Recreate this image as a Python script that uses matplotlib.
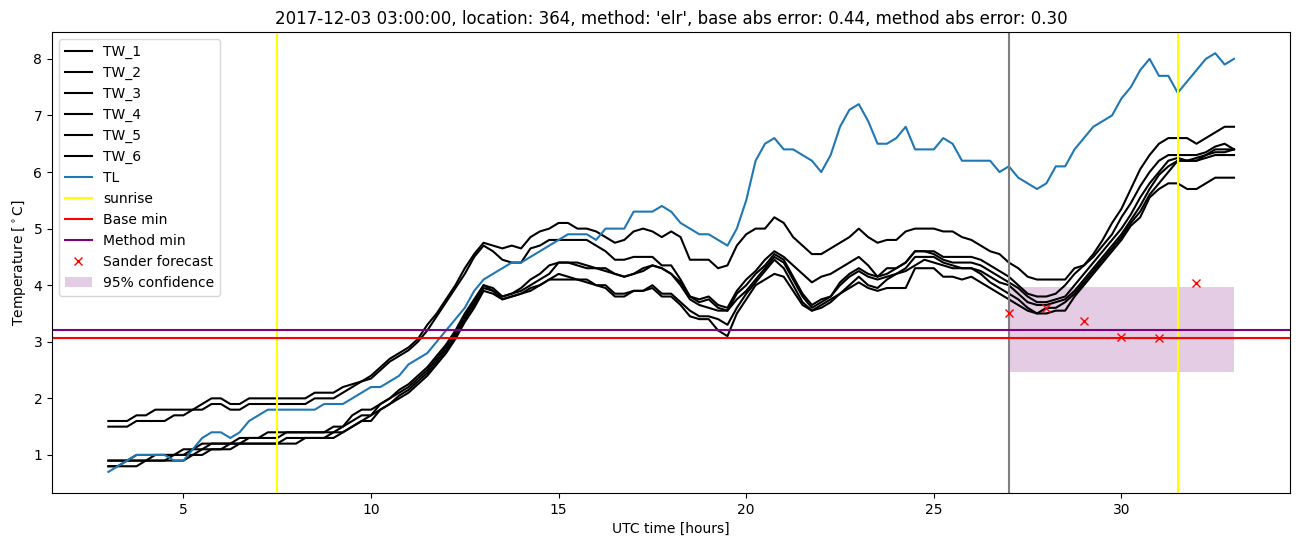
import numpy as np
import matplotlib
matplotlib.use("Agg")
import matplotlib.pyplot as plt

# ================== data ==================
# time axis in hours (UTC), 15 minute grid
hours = np.arange(3.0, 33.0 + 0.001, 0.25)

tw_1 = [1.6, 1.6, 1.6, 1.7, 1.7, 1.8, 1.8, 1.8, 1.8, 1.8, 1.9, 2.0, 2.0, 1.9, 1.9, 2.0, 2.0, 2.0, 2.0, 2.0,
        2.0, 2.0, 2.1, 2.1, 2.1, 2.2, 2.25, 2.3, 2.4,
        2.55, 2.7, 2.8, 2.9, 3.05, 3.3, 3.5, 3.75, 4.0, 4.3, 4.55, 4.75, 4.7, 4.65, 4.7, 4.65, 4.85, 4.95, 5.0, 5.1,
        5.1, 5.0, 5.0, 4.95, 4.85, 4.75, 4.8, 4.95, 5.0, 4.95, 4.85, 4.95, 4.85, 4.45, 4.45, 4.45, 4.3, 4.35,
        4.7, 4.9, 5.0, 5.0, 5.2, 5.1,
        4.85, 4.7, 4.55, 4.55, 4.65, 4.75, 4.85, 5.0, 4.85, 4.75, 4.8, 4.8, 4.95, 5.0, 5.0, 5.0, 4.95, 4.95,
        4.85, 4.8, 4.7, 4.6, 4.55, 4.4,
        4.3, 4.15, 4.1, 4.1, 4.1, 4.1, 4.3, 4.35, 4.55, 4.8, 5.1, 5.35, 5.7, 6.05, 6.3, 6.5, 6.6, 6.6, 6.6,
        6.5, 6.6, 6.7, 6.8, 6.8]
tw_2 = [1.5, 1.5, 1.5, 1.6, 1.6, 1.6, 1.6, 1.7, 1.7, 1.8, 1.8, 1.9, 1.9, 1.8, 1.8, 1.9, 1.9, 1.9, 1.9, 1.9,
        1.9, 1.9, 2.0, 2.0, 2.0, 2.1, 2.2, 2.3, 2.35,
        2.5, 2.65, 2.75, 2.85, 3.0, 3.2, 3.45, 3.7, 3.95, 4.2, 4.5, 4.7, 4.6, 4.45, 4.4, 4.4, 4.65, 4.7, 4.8, 4.8,
        4.8, 4.8, 4.8, 4.7, 4.6, 4.45, 4.45, 4.5, 4.5, 4.5, 4.35, 4.35, 4.1, 3.8, 3.75, 3.8, 3.65, 3.6,
        3.9, 4.1, 4.25, 4.45, 4.6, 4.5,
        4.35, 4.2, 4.05, 4.15, 4.2, 4.3, 4.4, 4.5, 4.35, 4.15, 4.3, 4.3, 4.4, 4.6, 4.6, 4.6, 4.5, 4.5,
        4.5, 4.5, 4.45, 4.35, 4.25, 4.15,
        4.0, 3.85, 3.8, 3.8, 3.85, 4.0, 4.2, 4.35, 4.5, 4.7, 4.9, 5.2, 5.45, 5.75, 6.0, 6.2, 6.3, 6.3, 6.3,
        6.3, 6.35, 6.45, 6.5, 6.4]
tw_3 = [0.9, 0.9, 0.9, 1.0, 1.0, 1.0, 1.0, 1.0, 1.1, 1.1, 1.2, 1.2, 1.2, 1.2, 1.3, 1.3, 1.3, 1.4, 1.4, 1.4,
        1.4, 1.4, 1.4, 1.4, 1.5, 1.5, 1.7, 1.8, 1.8,
        1.9, 2.0, 2.15, 2.25, 2.4, 2.55, 2.75, 2.95, 3.2, 3.5, 3.75, 4.0, 3.95, 3.8, 3.85, 3.95, 4.1, 4.2, 4.35, 4.4,
        4.4, 4.4, 4.35, 4.3, 4.3, 4.2, 4.15, 4.2, 4.3, 4.35, 4.3, 4.2, 4.05, 3.8, 3.7, 3.75, 3.6, 3.55,
        3.85, 4.0, 4.2, 4.35, 4.55, 4.45,
        4.15, 3.85, 3.65, 3.75, 3.8, 4.05, 4.2, 4.3, 4.2, 4.15, 4.2, 4.3, 4.4, 4.6, 4.6, 4.55, 4.45, 4.4,
        4.4, 4.4, 4.35, 4.25, 4.15, 4.05,
        3.95, 3.8, 3.7, 3.7, 3.75, 3.8, 4.0, 4.2, 4.4, 4.6, 4.8, 5.0, 5.25, 5.55, 5.8, 6.0, 6.2, 6.25, 6.2,
        6.25, 6.3, 6.4, 6.4, 6.4]
tw_4 = [0.9, 0.9, 0.9, 0.9, 0.9, 1.0, 1.0, 1.0, 1.0, 1.1, 1.1, 1.2, 1.2, 1.2, 1.2, 1.3, 1.3, 1.3, 1.3, 1.4,
        1.4, 1.4, 1.4, 1.4, 1.4, 1.5, 1.6, 1.7, 1.7,
        1.9, 2.0, 2.1, 2.2, 2.35, 2.5, 2.7, 2.9, 3.15, 3.45, 3.7, 4.0, 3.9, 3.8, 3.85, 3.9, 4.0, 4.1, 4.2, 4.4,
        4.4, 4.35, 4.3, 4.3, 4.25, 4.2, 4.15, 4.2, 4.25, 4.35, 4.3, 4.2, 4.0, 3.75, 3.65, 3.6, 3.55, 3.55,
        3.75, 3.9, 4.1, 4.3, 4.5, 4.4,
        4.1, 3.8, 3.6, 3.7, 3.8, 4.0, 4.15, 4.25, 4.15, 4.1, 4.15, 4.2, 4.3, 4.5, 4.5, 4.5, 4.4, 4.35,
        4.3, 4.3, 4.25, 4.15, 4.05, 4.0,
        3.85, 3.7, 3.65, 3.65, 3.7, 3.75, 3.9, 4.1, 4.3, 4.5, 4.7, 4.9, 5.15, 5.4, 5.7, 5.95, 6.1, 6.2, 6.2,
        6.2, 6.3, 6.35, 6.35, 6.4]
tw_5 = [0.8, 0.8, 0.9, 0.9, 0.9, 0.9, 0.9, 1.0, 1.0, 1.0, 1.1, 1.1, 1.1, 1.2, 1.2, 1.2, 1.2, 1.2, 1.2, 1.3,
        1.3, 1.3, 1.3, 1.3, 1.4, 1.4, 1.5, 1.6, 1.7,
        1.8, 1.9, 2.05, 2.15, 2.3, 2.45, 2.65, 2.85, 3.1, 3.4, 3.65, 3.95, 3.9, 3.75, 3.8, 3.85, 3.95, 4.0, 4.1, 4.2,
        4.15, 4.1, 4.1, 4.0, 4.0, 3.85, 3.85, 3.9, 3.9, 4.0, 3.85, 3.85, 3.7, 3.55, 3.45, 3.45, 3.4, 3.3,
        3.6, 3.85, 4.05, 4.25, 4.45, 4.3,
        4.0, 3.7, 3.55, 3.65, 3.75, 3.85, 4.0, 4.15, 4.0, 3.95, 4.1, 4.2, 4.25, 4.35, 4.45, 4.4, 4.35, 4.3,
        4.3, 4.3, 4.2, 4.05, 3.95, 3.85,
        3.75, 3.6, 3.5, 3.6, 3.6, 3.7, 3.85, 4.05, 4.25, 4.45, 4.65, 4.85, 5.1, 5.3, 5.6, 5.8, 6.0, 6.2, 6.2,
        6.2, 6.25, 6.3, 6.3, 6.3]
tw_6 = [0.8, 0.8, 0.8, 0.8, 0.9, 0.9, 0.9, 0.9, 0.9, 1.0, 1.0, 1.1, 1.1, 1.1, 1.2, 1.2, 1.2, 1.2, 1.2, 1.2,
        1.2, 1.3, 1.3, 1.3, 1.3, 1.4, 1.5, 1.6, 1.6,
        1.8, 1.9, 2.0, 2.1, 2.25, 2.4, 2.6, 2.8, 3.05, 3.35, 3.6, 3.9, 3.85, 3.75, 3.8, 3.85, 3.9, 4.0, 4.1, 4.1,
        4.1, 4.1, 4.05, 4.0, 3.95, 3.8, 3.8, 3.9, 3.9, 3.95, 3.8, 3.8, 3.65, 3.45, 3.4, 3.4, 3.2, 3.1,
        3.5, 3.75, 4.0, 4.1, 4.2, 4.15,
        3.9, 3.65, 3.55, 3.6, 3.7, 3.85, 3.95, 4.05, 3.95, 3.9, 3.95, 3.95, 3.95, 4.3, 4.3, 4.3, 4.15, 4.15,
        4.1, 4.15, 4.05, 3.95, 3.85, 3.75,
        3.65, 3.55, 3.5, 3.5, 3.55, 3.55, 3.8, 4.0, 4.2, 4.4, 4.6, 4.8, 5.05, 5.2, 5.55, 5.7, 5.8, 5.8, 5.7,
        5.7, 5.8, 5.9, 5.9, 5.9]

tl = [0.7, 0.8, 0.9, 1.0, 1.0, 1.0, 1.0, 0.9, 0.9, 1.1, 1.3, 1.4, 1.4, 1.3, 1.4, 1.6, 1.7, 1.8, 1.8, 1.8,
      1.8, 1.8, 1.8, 1.9, 1.9, 1.9, 2.0, 2.1, 2.2,
      2.2, 2.3, 2.4, 2.6, 2.7, 2.8, 3.0, 3.2, 3.4, 3.6, 3.9, 4.1, 4.2, 4.3, 4.4, 4.4, 4.5, 4.6, 4.7, 4.8,
      4.9, 4.9, 4.9, 4.8, 5.0, 5.0, 5.0, 5.3, 5.3, 5.3, 5.4, 5.3, 5.1, 5.0, 4.9, 4.9, 4.8, 4.7,
      5.0, 5.5, 6.2, 6.5, 6.6, 6.4,
      6.4, 6.3, 6.2, 6.0, 6.3, 6.8, 7.1, 7.2, 6.9, 6.5, 6.5, 6.6, 6.8, 6.4, 6.4, 6.4, 6.6, 6.5,
      6.2, 6.2, 6.2, 6.2, 6.0, 6.1,
      5.9, 5.8, 5.7, 5.8, 6.1, 6.1, 6.4, 6.6, 6.8, 6.9, 7.0, 7.3, 7.5, 7.8, 8.0, 7.7, 7.7, 7.4, 7.6,
      7.8, 8.0, 8.1, 7.9, 8.0]

tw_series = [tw_1, tw_2, tw_3, tw_4, tw_5, tw_6]
tw_labels = ['TW_1', 'TW_2', 'TW_3', 'TW_4', 'TW_5', 'TW_6']

sunrise_hours = [7.5, 31.5]
forecast_start = 27.0
base_min = 3.06
method_min = 3.2

sander_hours = [27, 28, 29, 30, 31, 32]
sander_values = [3.50, 3.60, 3.36, 3.08, 3.06, 4.03]

conf_hours = [27.0, 33.0]
conf_low = 2.47
conf_high = 3.97

title = ("2017-12-03 03:00:00, location: 364, method: 'elr', "
         "base abs error: 0.44, method abs error: 0.30")

# ================== plot ==================
fig, ax = plt.subplots(figsize=(13.02, 5.47), dpi=100)
fig.subplots_adjust(left=0.040, right=0.991, top=0.941, bottom=0.099)

for vals, lab in zip(tw_series, tw_labels):
    ax.plot(hours, vals, color='black', label=lab)
ax.plot(hours, tl, color='#1f77b4', label='TL')

for i, h in enumerate(sunrise_hours):
    ax.axvline(h, color='yellow', label='sunrise' if i == 0 else None)
ax.axvline(forecast_start, color='grey')
ax.axhline(base_min, color='red', label='Base min')
ax.axhline(method_min, color='purple', label='Method min')
ax.plot(sander_hours, sander_values, 'x', color='red', label='Sander forecast')
ax.fill_between(conf_hours, conf_low, conf_high, color='purple', alpha=0.2,
                linewidth=0, label='95% confidence')

ax.set_xlabel('UTC time [hours]')
ax.set_ylabel(r'Temperature [$^\circ$C]')
ax.set_title(title)
ax.legend(loc='upper left')

fig.savefig('out.png', dpi=100)
